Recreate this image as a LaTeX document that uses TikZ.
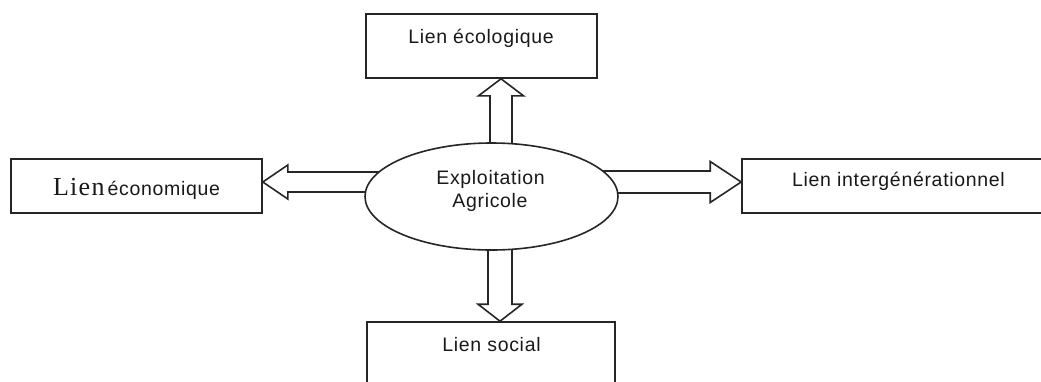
\documentclass[tikz,border=0pt]{standalone}
\usepackage{fontspec}
\setmainfont{Liberation Sans}
\newfontfamily\labelfont[LetterSpace=3.5]{Liberation Sans}
\newfontfamily\serifword[LetterSpace=5]{Liberation Serif}
\usetikzlibrary{shapes.geometric,backgrounds,calc}

\begin{document}
\begin{tikzpicture}[x=1pt,y=-1pt,
  ink/.style={draw=black!85, line width=1.6pt},
  box/.style={ink, fill=white, rectangle, inner sep=0pt},
  txt/.style={anchor=base, inner sep=0pt, text=black!90,
              font=\labelfont\fontsize{19.5}{23}\selectfont},
  blockarrow/.style={ink, fill=white, line join=miter}]
\useasboundingbox (0,0) rectangle (1041,381);
\clip (0,0) rectangle (1041,381);

% outer boxes
\node[box, minimum width=231pt, minimum height=64pt] (eco) at (481.5,46) {};
\node[txt] (ecoT) at (481,43) {Lien écologique};

\node[box, minimum width=251pt, minimum height=54pt] (econ) at (136.5,186) {};
\node[txt] (econT) at (136.5,195)
  {{\serifword\fontsize{26}{28}\selectfont Lien}\hspace{3pt}économique};

\node[box, minimum width=310pt, minimum height=54pt] (gen) at (897,186) {};
\node[txt] (genT) at (898.5,186) {Lien intergénérationnel};

\node[box, minimum width=248pt, minimum height=100pt] (soc) at (491,372) {};
\node[txt] (socT) at (491.5,351) {Lien social};

% central ellipse
\node[ink, ellipse, fill=white, minimum width=253pt, minimum height=107pt,
      inner sep=0pt] (farm) at (491.5,196.5) {};
\node[txt] (farmT1) at (490.5,184) {Exploitation};
\node[txt] (farmT2) at (490,207) {Agricole};

% hollow block arrows, tucked behind the ellipse
\begin{scope}[on background layer]
  \coordinate (ut) at ($(eco.south)+(19.5,0)$);
  \coordinate (dt) at ($(soc.north)+(9,0)$);
  \coordinate (lt) at ($(econ.east)+(0,-4)$);
  \coordinate (rt) at ($(gen.west)+(0,-4)$);

  \draw[blockarrow, shift={(ut)}] (-11,130) -- (-11,17) -- (-22.5,17) -- (0,0)
      -- (22.5,17) -- (11,17) -- (11,130) -- cycle;
  \draw[blockarrow, shift={(dt)}] (-12,-130) -- (-12,-17) -- (-22,-17) -- (0,0)
      -- (22,-17) -- (12,-17) -- (12,-130) -- cycle;
  \draw[blockarrow, shift={(lt)}] (150,-10) -- (25,-10) -- (25,-17) -- (0,0)
      -- (25,17) -- (25,10) -- (150,10) -- cycle;
  \draw[blockarrow, shift={(rt)}] (-150,-11) -- (-31,-11) -- (-31,-20.5) -- (0,0)
      -- (-31,20.5) -- (-31,11) -- (-150,11) -- cycle;
\end{scope}
\end{tikzpicture}
\end{document}
